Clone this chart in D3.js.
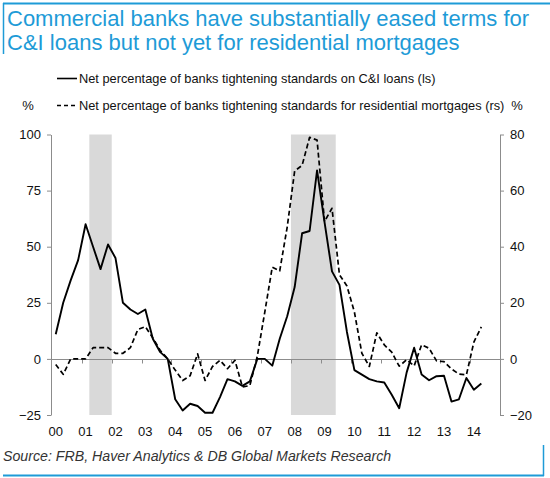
<!DOCTYPE html>
<html>
<head>
<meta charset="utf-8">
<script src="https://cdn.jsdelivr.net/npm/d3@7"></script>
<style>
  html, body { margin: 0; padding: 0; background: #fff; }
  svg { display: block; font-family: "Liberation Sans", Arial, sans-serif; }
</style>
</head>
<body>
<svg id="chart" width="550" height="478"></svg>
<script>
// ---- Data ----
const quarters = [];
for (let y = 2000; y <= 2014; y++) for (let q = 1; q <= 4; q++) quarters.push(y + "Q" + q);

// Net % of banks tightening standards on C&I loans (left scale), 2000Q1–2014Q2
const ciLoans = [11, 25, 35, 44, 60, 50, 40, 51, 45, 25, 22, 20, 22, 9, 3, 0,
  -18, -23, -20, -21, -24, -24, -17, -9, -10, -12, -10, 0, 0, -3, 9, 19,
  32, 56, 57, 84, 61, 39, 33, 12, -5, -7, -9, -10, -10.5, -16, -22, -6,
  5, -7, -9.5, -7.7, -7.5, -19, -18, -8.5, -13.7, -11];

// Net % of banks tightening standards for residential mortgages (right scale)
const mortgages = [-2, -5.5, 0, 0, 0, 4, 4, 4, 2, 2, 4, 10.5, 11.5, 7.5, 3, 0,
  -4, -7.7, -6, 1.8, -7.7, -2.7, -0.5, -3.5, -0.5, -10, -9.5, 1, 16.7, 32.7, 31.4, 47,
  67, 69, 79, 78, 49, 53.7, 30, 26, 16.7, 2, -2.7, 9.3, 5, 2.4, -2.6, -0.3,
  -2.5, 5, 3.8, -0.7, -1, -3.6, -5.4, -5.7, 6, 11.4];

const yearLabels = ["00","01","02","03","04","05","06","07","08","09","10","11","12","13","14"];
const leftTicks = [-25, 0, 25, 50, 75, 100];
const rightTicks = [-20, 0, 20, 40, 60, 80];
// Recessions: [first quarter, last quarter]
const recessions = [["2001Q2", "2001Q4"], ["2008Q1", "2009Q2"]];

const titleLines = ["Commercial banks have substantially eased terms for",
                    "C&I loans but not yet for residential mortgages"];
const legendLabels = ["Net percentage of banks tightening standards on C&I loans (ls)",
                      "Net percentage of banks tightening standards for residential mortgages (rs)"];
const sourceText = "Source: FRB, Haver Analytics & DB Global Markets Research";

// ---- Layout ----
const blue = "#1e9bd7";
const axisGrey = "#8c8c8c";
const svg = d3.select("#chart");

const plotLeft = 51, plotRight = 500, plotTop = 134.5, plotBottom = 415;
const x = d3.scaleBand().domain(quarters).range([52, 500]);
const cx = q => x(q) + x.bandwidth() / 2;
const yL = d3.scaleLinear().domain([-25, 100]).range([plotBottom, plotTop]);
const yR = d3.scaleLinear().domain([-20, 80]).range([plotBottom, plotTop]);

// Frame decorations
svg.append("line").attr("x1", 3).attr("x2", 550).attr("y1", 3.5).attr("y2", 3.5)
  .attr("stroke", blue).attr("stroke-width", 2);
svg.append("line").attr("x1", 3.5).attr("x2", 3.5).attr("y1", 3).attr("y2", 54)
  .attr("stroke", blue).attr("stroke-width", 1.5);
svg.append("line").attr("x1", 3).attr("x2", 544).attr("y1", 475.5).attr("y2", 475.5)
  .attr("stroke", blue).attr("stroke-width", 2);
svg.append("line").attr("x1", 543.5).attr("x2", 543.5).attr("y1", 445).attr("y2", 476)
  .attr("stroke", blue).attr("stroke-width", 1.5);

// Title
svg.append("g").selectAll("text").data(titleLines).join("text")
  .attr("x", 7).attr("y", (d, i) => 25.5 + i * 24.5)
  .attr("fill", blue).attr("font-size", 22).text(d => d);

// Legend
const lg = svg.append("g").attr("font-size", 12.8).attr("fill", "#111");
lg.append("line").attr("x1", 57).attr("x2", 77).attr("y1", 78.5).attr("y2", 78.5)
  .attr("stroke", "#000").attr("stroke-width", 1.6);
lg.append("line").attr("x1", 57).attr("x2", 77).attr("y1", 105.5).attr("y2", 105.5)
  .attr("stroke", "#000").attr("stroke-width", 1.6).attr("stroke-dasharray", "4,3");
lg.selectAll("text.leg").data(legendLabels).join("text").attr("class", "leg")
  .attr("x", 79).attr("y", (d, i) => 83 + i * 27).text(d => d);
svg.append("text").attr("x", 28).attr("y", 110).attr("text-anchor", "middle")
  .attr("font-size", 13).attr("fill", "#111").text("%");
svg.append("text").attr("x", 517).attr("y", 110).attr("text-anchor", "middle")
  .attr("font-size", 13).attr("fill", "#111").text("%");

// Recession shading
svg.append("g").selectAll("rect").data(recessions).join("rect")
  .attr("x", d => x(d[0]))
  .attr("width", d => x(d[1]) + x.bandwidth() - x(d[0]))
  .attr("y", plotTop).attr("height", plotBottom - plotTop)
  .attr("fill", "#d9d9d9");

// Left axis
const gL = svg.append("g").attr("transform", `translate(${plotLeft},0)`)
  .call(d3.axisLeft(yL).tickValues(leftTicks).tickSize(4).tickPadding(6).tickSizeOuter(0));
// Right axis
const gR = svg.append("g").attr("transform", `translate(${plotRight},0)`)
  .call(d3.axisRight(yR).tickValues(rightTicks).tickSize(4).tickPadding(6).tickSizeOuter(0));
[gL, gR].forEach(g => {
  g.select(".domain").attr("stroke", axisGrey);
  g.selectAll(".tick line").attr("stroke", axisGrey);
  g.selectAll(".tick text").attr("font-size", 13).attr("fill", "#111")
    .attr("font-family", "Liberation Sans, Arial, sans-serif");
});

// Zero line with year tick marks
const y0 = Math.round(yL(0)) + 0.5;
svg.append("line").attr("x1", plotLeft).attr("x2", plotRight).attr("y1", y0).attr("y2", y0)
  .attr("stroke", axisGrey).attr("stroke-width", 1.2);
const yearStarts = yearLabels.map((d, i) => quarters[i * 4]);
svg.append("g").selectAll("line").data(yearStarts.slice(1)).join("line")
  .attr("x1", d => Math.round(x(d)) + 0.5).attr("x2", d => Math.round(x(d)) + 0.5)
  .attr("y1", y0).attr("y2", y0 + 4).attr("stroke", axisGrey);

// X labels
svg.append("g").selectAll("text").data(yearLabels).join("text")
  .attr("x", (d, i) => cx(quarters[i * 4])).attr("y", 436)
  .attr("text-anchor", "middle").attr("font-size", 13).attr("fill", "#111").text(d => d);

// Lines
const lineL = d3.line().x((d, i) => cx(quarters[i])).y(d => yL(d));
const lineR = d3.line().x((d, i) => cx(quarters[i])).y(d => yR(d));
svg.append("path").datum(mortgages).attr("d", lineR).attr("fill", "none")
  .attr("stroke", "#000").attr("stroke-width", 1.7).attr("stroke-dasharray", "5,3")
  .attr("stroke-linejoin", "round");
svg.append("path").datum(ciLoans).attr("d", lineL).attr("fill", "none")
  .attr("stroke", "#000").attr("stroke-width", 1.9).attr("stroke-linejoin", "round");

// Source
svg.append("text").attr("x", 3).attr("y", 461).attr("font-size", 14.2)
  .attr("font-style", "italic").attr("fill", "#333").text(sourceText);
</script>
</body>
</html>
